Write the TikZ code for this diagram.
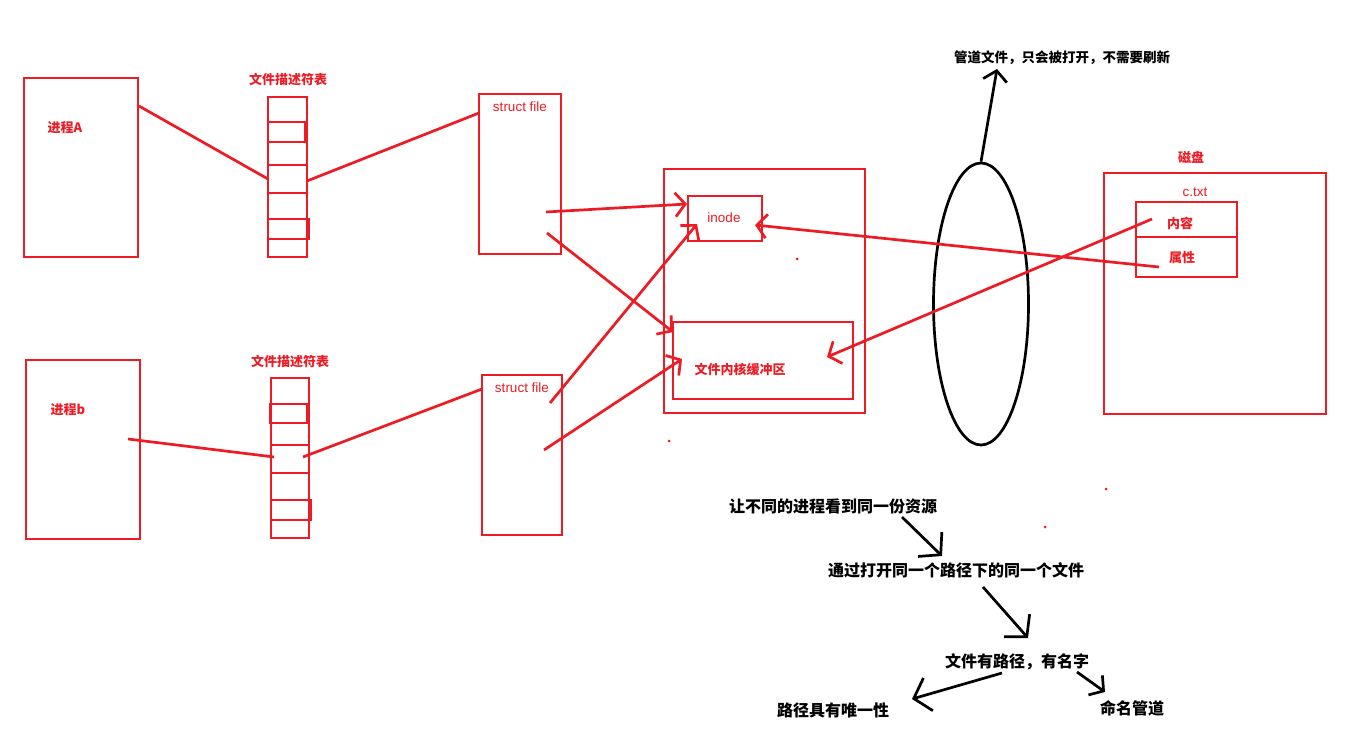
\documentclass[tikz,border=0pt]{standalone}
\usepackage{fontspec}
\setmainfont{Noto Sans CJK SC}
\newfontfamily\latinf{Liberation Sans}
\usetikzlibrary{arrows.meta,shapes.geometric}
\definecolor{pred}{RGB}{237,28,36}
\tikzset{
  box/.style={draw=pred, line width=2.7pt, anchor=north west, inner sep=0pt, outer sep=0pt},
  rline/.style={draw=pred, line width=2.7pt},
  rarrow/.style={draw=pred, line width=2.7pt, -{Straight Barb[length=10pt,width=24pt]}},
  barrow/.style={draw=black, line width=2.7pt, -{Straight Barb[length=15pt,width=34pt]}},
  sbarrow/.style={draw=black, line width=2.7pt, -{Straight Barb[length=10pt,width=24pt]}},
  rlbl/.style={text=pred, font=\bfseries\fontsize{13}{15}\selectfont, inner sep=0pt},
  blbl/.style={text=black, font=\bfseries\fontsize{16}{18}\selectfont, inner sep=0pt},
  latin/.style={text=pred, font=\latinf\fontsize{13.5}{15}\selectfont, inner sep=0pt},
  dot/.style={fill=pred, circle, inner sep=0pt, minimum size=3pt},
}
\begin{document}
\begin{tikzpicture}[x=1pt,y=-1pt]
\useasboundingbox[fill=white] (0,0) rectangle (1345,744);
% process A
\node[box, minimum width=114pt, minimum height=179pt] (pA) at (24,78) {};
\node[rlbl] (tA) at (65,128) {进程A};
% fd table A
\node[rlbl] (fdtA) at (288,79) {文件描述符表};
\node[box, minimum width=39pt, minimum height=160pt] (fdA) at (268,97) {};
\node[box, minimum width=37pt, minimum height=20pt] (fdA1) at (268,122) {};
\node[box, minimum width=41pt, minimum height=20pt] (fdA5) at (268,219) {};
\draw[rline] (fdA.west |- 0,165) -- (fdA.east |- 0,165);
\draw[rline] (fdA.west |- 0,193) -- (fdA.east |- 0,193);
% process b
\node[box, minimum width=114pt, minimum height=179pt] (pB) at (26,360) {};
\node[rlbl] (tB) at (68,410) {进程b};
% fd table b
\node[rlbl] (fdtB) at (290,361) {文件描述符表};
\node[box, minimum width=38pt, minimum height=160pt] (fdB) at (271,378) {};
\node[box, minimum width=37pt, minimum height=19pt] (fdB1) at (270,404) {};
\node[box, minimum width=40pt, minimum height=20pt] (fdB5) at (271,500) {};
\draw[rline] (fdB.west |- 0,445) -- (fdB.east |- 0,445);
\draw[rline] (fdB.west |- 0,473) -- (fdB.east |- 0,473);
% struct files
\node[box, minimum width=82pt, minimum height=160pt] (sfA) at (479,94) {};
\node[latin] (sfAt) at (520,107) {struct file};
\node[box, minimum width=80pt, minimum height=160pt] (sfB) at (482,375) {};
\node[latin] (sfBt) at (522,388) {struct file};
% kernel
\node[box, minimum width=201pt, minimum height=244pt] (kern) at (664,169) {};
\node[box, minimum width=74pt, minimum height=45pt] (inode) at (688,196) {};
\node[latin] (inodet) at (724,218) {inode};
\node[box, minimum width=180pt, minimum height=77pt] (buf) at (673,322) {};
\node[rlbl] (buft) at (740,369) {文件内核缓冲区};
% disk
\node[rlbl] (diskt) at (1191,157) {磁盘};
\node[box, minimum width=222pt, minimum height=241pt] (disk) at (1104,173) {};
\node[latin] (ctxtt) at (1195,192) {c.txt};
\node[box, minimum width=101pt, minimum height=75pt] (ctxt) at (1136,202) {};
\draw[rline] (ctxt.west |- 0,237) -- (ctxt.east |- 0,237);
\node[rlbl] (cont) at (1180,223) {内容};
\node[rlbl] (attr) at (1182,258) {属性};
% pipe ellipse
\node[draw, ellipse, line width=2.7pt, minimum width=95pt, minimum height=282pt, inner sep=0pt] (pipe) at (981,304) {};
\node[font=\bfseries\fontsize{13.5}{16}\selectfont, inner sep=0pt] (pipet) at (1062,58) {管道文件，只会被打开，不需要刷新};
\coordinate (pipetip) at (997,69);
\draw[sbarrow] (pipe.north) -- (pipetip);
% red connectors
\coordinate (a1) at (139,106); \coordinate (a2) at (268,179);
\coordinate (a3) at (307,181); \coordinate (a4) at (479,113);
\draw[rline] (a1) -- (a2);
\draw[rline] (a3) -- (a4);
\coordinate (b1) at (128,439); \coordinate (b2) at (274,457);
\coordinate (b3) at (303,457); \coordinate (b4) at (482,389);
\draw[rline] (b1) -- (b2);
\draw[rline] (b3) -- (b4);
\coordinate (s1) at (546,212); \coordinate (i1) at (687,204);
\draw[rarrow] (s1) -- (i1);
\coordinate (s2) at (547,233); \coordinate (k1) at (673,332);
\draw[rarrow] (s2) -- (k1);
\coordinate (s3) at (550,403); \coordinate (i2) at (697,224);
\draw[rarrow] (s3) -- (i2);
\coordinate (s4) at (544,450); \coordinate (k2) at (682,359);
\draw[rarrow] (s4) -- (k2);
\coordinate (d1) at (1159,267); \coordinate (i3) at (755,225);
\draw[rarrow] (d1) -- (i3);
\coordinate (d2) at (1152,219); \coordinate (k3) at (827,357);
\draw[rarrow] (d2) -- (k3);
% stray dots
\node[dot] (dt1) at (797,259) {};
\node[dot] (dt2) at (669,441) {};
\node[dot] (dt3) at (1106,489) {};
\node[dot] (dt4) at (1045,527) {};
% bottom chain
\node[blbl] (q1) at (833,506) {让不同的进程看到同一份资源};
\node[blbl] (q2) at (956,570) {通过打开同一个路径下的同一个文件};
\node[blbl] (q3) at (1017,662) {文件有路径，有名字};
\node[blbl] (q4) at (833,710) {路径具有唯一性};
\node[blbl] (q5) at (1132,708) {命名管道};
\coordinate (e1s) at (902,517); \coordinate (e1e) at (942,556);
\draw[barrow] (e1s) -- (e1e);
\coordinate (e2s) at (983,587); \coordinate (e2e) at (1028,638);
\draw[barrow] (e2s) -- (e2e);
\coordinate (e3s) at (1002,673); \coordinate (e3e) at (912,699);
\draw[barrow] (e3s) -- (e3e);
\coordinate (e4s) at (1077,672); \coordinate (e4e) at (1105,692);
\draw[sbarrow] (e4s) -- (e4e);
\end{tikzpicture}
\end{document}
